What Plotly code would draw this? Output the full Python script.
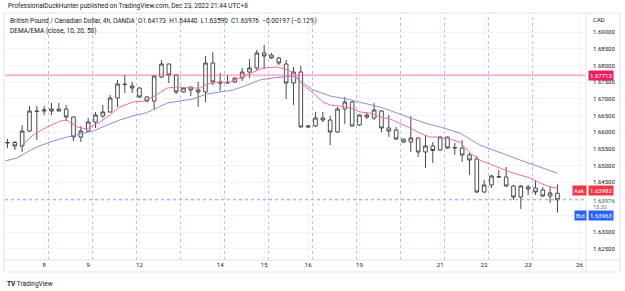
import plotly.graph_objects as go

# ---------------- data ----------------
opens = [1.65679, 1.65694, 1.65589, 1.66039, 1.66639, 1.66639, 1.66639, 1.66699, 1.66699, 1.66459,
         1.65859, 1.66039, 1.66309, 1.66489, 1.66609, 1.67029, 1.67449, 1.67329, 1.67329, 1.67059,
         1.66939, 1.67659, 1.68049, 1.67719, 1.67209, 1.67359, 1.67269, 1.67209, 1.68079, 1.67509,
         1.67479, 1.67509, 1.67629, 1.67809, 1.67929, 1.68379, 1.68319, 1.68229, 1.68049, 1.67479,
         1.67809, 1.66159, 1.66189, 1.66429, 1.66369, 1.66009, 1.66699, 1.66909, 1.66219, 1.66519,
         1.66429, 1.66639, 1.66129, 1.66069, 1.65799, 1.65709, 1.65829, 1.65409, 1.65589, 1.65469,
         1.65859, 1.65529, 1.65529, 1.65319, 1.65199, 1.64209, 1.64419, 1.64674, 1.64659, 1.64389,
         1.64059, 1.64359, 1.64329, 1.64269, 1.64089, 1.64173]
highs = [1.65799, 1.65739, 1.66219, 1.66789, 1.66789, 1.66789, 1.66879, 1.66879, 1.66819, 1.66474,
         1.66189, 1.66429, 1.66609, 1.66819, 1.67119, 1.67569, 1.67719, 1.67509, 1.67344, 1.67089,
         1.67719, 1.68169, 1.68064, 1.67734, 1.67359, 1.67359, 1.67509, 1.68289, 1.68409, 1.67779,
         1.67719, 1.67629, 1.67929, 1.68199, 1.68469, 1.68619, 1.68379, 1.68259, 1.68169, 1.67959,
         1.67989, 1.66204, 1.66609, 1.66609, 1.66489, 1.66759, 1.67059, 1.66939, 1.66534, 1.66609,
         1.66879, 1.66669, 1.66519, 1.66159, 1.65814, 1.66489, 1.65844, 1.65919, 1.65709, 1.65874,
         1.65874, 1.65679, 1.65769, 1.65379, 1.65289, 1.64569, 1.64719, 1.64869, 1.64959, 1.64419,
         1.64419, 1.64419, 1.64569, 1.64359, 1.64389, 1.64440]
lows = [1.65529, 1.65469, 1.65409, 1.66009, 1.65769, 1.66519, 1.66519, 1.66624, 1.66339, 1.65739,
        1.65709, 1.66009, 1.66129, 1.66429, 1.66594, 1.66759, 1.67179, 1.67179, 1.67029, 1.66909,
        1.66669, 1.67629, 1.67479, 1.67149, 1.67194, 1.67089, 1.66759, 1.66909, 1.67419, 1.67239,
        1.67449, 1.67479, 1.67539, 1.67629, 1.67869, 1.67899, 1.68199, 1.68019, 1.66999, 1.66819,
        1.66144, 1.66129, 1.66159, 1.66309, 1.65619, 1.65979, 1.66249, 1.66174, 1.66189, 1.66399,
        1.66369, 1.66009, 1.65859, 1.65769, 1.65694, 1.65409, 1.65259, 1.64929, 1.65079, 1.65439,
        1.65499, 1.65319, 1.65109, 1.64719, 1.64179, 1.64179, 1.64329, 1.64629, 1.64359, 1.63969,
        1.63699, 1.64119, 1.64119, 1.64059, 1.63879, 1.63590]
closes = [1.65694, 1.65589, 1.66039, 1.66639, 1.66624, 1.66669, 1.66699, 1.66639, 1.66459, 1.65859,
          1.66039, 1.66309, 1.66519, 1.66609, 1.67029, 1.67449, 1.67434, 1.67389, 1.67059, 1.66939,
          1.67689, 1.68049, 1.67719, 1.67209, 1.67329, 1.67269, 1.67209, 1.68079, 1.67509, 1.67479,
          1.67494, 1.67629, 1.67809, 1.67929, 1.68379, 1.68289, 1.68229, 1.68079, 1.67479, 1.67809,
          1.66159, 1.66189, 1.66429, 1.66369, 1.66009, 1.66699, 1.66909, 1.66189, 1.66519, 1.66459,
          1.66669, 1.66129, 1.66039, 1.65799, 1.65709, 1.65829, 1.65409, 1.65589, 1.65454, 1.65859,
          1.65529, 1.65544, 1.65319, 1.65169, 1.64209, 1.64419, 1.64689, 1.64659, 1.64389, 1.64059,
          1.64389, 1.64299, 1.64209, 1.64089, 1.64179, 1.63976]
bar_idx = list(range(len(closes)))

# fast average line (pink), read at candle positions
fast_idx = [1.7, 3.5, 5.4, 7.2, 8.1, 9.5, 10.8, 12.6, 14.0, 15.3, 17.1, 18.8, 19.8, 21.8, 23.1, 24.9,
            26.3, 27.2, 29.0, 30.3, 31.7, 33.5, 34.8, 36.8, 37.8, 38.9, 40.3, 41.7, 43.0, 44.0, 45.3,
            46.7, 48.1, 49.4, 50.8, 52.2, 53.5, 54.9, 56.2, 57.6, 58.9, 60.3, 61.7, 63.1, 64.4, 65.8,
            67.2, 68.5, 69.9, 71.3, 72.6, 74.0, 75.0]
fast_val = [1.65559, 1.65919, 1.66159, 1.66339, 1.66369, 1.66159, 1.66099, 1.66309, 1.66519, 1.66759,
            1.66909, 1.66939, 1.67059, 1.67329, 1.67359, 1.67329, 1.67329, 1.67449, 1.67509, 1.67509,
            1.67629, 1.67809, 1.67929, 1.67959, 1.67899, 1.67809, 1.67419, 1.67179, 1.66909, 1.66819,
            1.66789, 1.66729, 1.66609, 1.66579, 1.66459, 1.66399, 1.66279, 1.66129, 1.65979, 1.65859,
            1.65859, 1.65799, 1.65709, 1.65379, 1.65169, 1.65049, 1.64929, 1.64809, 1.64719, 1.64629,
            1.64479, 1.64359, 1.64319]

# slow average line (purple)
slow_idx = [-0.4, 1.3, 2.7, 4.0, 5.8, 8.1, 9.9, 11.7, 13.6, 15.3, 17.1, 18.8, 19.8, 21.8, 23.5, 25.3,
            27.2, 29.0, 30.8, 32.7, 34.4, 36.2, 37.8, 38.9, 40.3, 41.7, 44.0, 46.3, 48.5, 50.8, 53.1,
            55.3, 56.9, 59.0, 61.7, 64.4, 67.2, 69.9, 72.6, 75.0]
slow_val = [1.65139, 1.65229, 1.65409, 1.65559, 1.65709, 1.65859, 1.65949, 1.66039, 1.66219, 1.66369,
            1.66489, 1.66579, 1.66669, 1.66879, 1.66939, 1.66999, 1.67149, 1.67209, 1.67269, 1.67419,
            1.67569, 1.67629, 1.67659, 1.67689, 1.67479, 1.67269, 1.67089, 1.66999, 1.66879, 1.66759,
            1.66579, 1.66399, 1.66279, 1.66159, 1.65979, 1.65619, 1.65379, 1.65169, 1.64959, 1.64769]

day_labels = ["8", "9", "12", "14", "15", "16", "19", "21", "22", "23", "26"]
day_label_idx = [5, 11, 18, 29, 35, 41, 48, 59, 65, 71, 78]
day_break_idx = [5.6, 11.6, 17.6, 23.6, 29.6, 35.6, 41.6, 47.6, 53.6, 59.6, 65.6, 71.6]

price_ticks = [1.625, 1.630, 1.635, 1.640, 1.645, 1.650, 1.655, 1.660, 1.665, 1.670,
               1.675, 1.680, 1.685, 1.690]
hidden_ticks = [1.635, 1.640]

hline_price = 1.67713
last_price = 1.63976
ask_price = 1.63982
bid_price = 1.63963

title_text = "ProfessionalDuckHunter published on TradingView.com, Dec 23, 2022 21:44 UTC+8"
legend_1 = ("British Pound / Canadian Dollar, 4h, OANDA  O1.64173  H1.64440  L1.63590  "
            "C1.63976  \u22120.00197 (\u22120.12%)")
legend_2 = "DEMA/EMA (close, 10, 20, 50)"

# ---------------- figure ----------------
W, H = 625, 291
ML, MR, MT, MB = 5, 39, 13, 31
PW, PH = W - ML - MR, H - MT - MB


def px(xp):
    return (xp - ML) / PW


def py(yp):
    return (H - MB - yp) / PH


FONT = "Roboto, Arial, sans-serif"
TXT = "#131722"

fig = go.Figure()

fig.add_trace(go.Candlestick(
    x=bar_idx, open=opens, high=highs, low=lows, close=closes,
    increasing=dict(line=dict(color="#4a4a4a", width=1), fillcolor="#ffffff"),
    decreasing=dict(line=dict(color="#4a4a4a", width=1), fillcolor="#ffffff"),
    whiskerwidth=0, hoverinfo="skip", showlegend=False,
))
fig.add_trace(go.Scatter(x=slow_idx, y=slow_val, mode="lines",
                         line=dict(color="#9a88dc", width=1), hoverinfo="skip", showlegend=False))
fig.add_trace(go.Scatter(x=fast_idx, y=fast_val, mode="lines",
                         line=dict(color="#ef6f9b", width=1), hoverinfo="skip", showlegend=False))

shapes = []
for b in day_break_idx:
    shapes.append(dict(type="line", xref="x", yref="paper", x0=b, x1=b, y0=0, y1=1,
                       line=dict(color="rgba(41,98,255,0.4)", width=1, dash="3px,3px"), layer="below"))
shapes.append(dict(type="line", xref="paper", yref="y", x0=0, x1=1, y0=hline_price, y1=hline_price,
                   line=dict(color="rgba(242,90,150,0.45)", width=2)))
shapes.append(dict(type="line", xref="paper", yref="y", x0=0, x1=1, y0=last_price, y1=last_price,
                   line=dict(color="#a98be0", width=1, dash="dot")))
# frame
shapes.append(dict(type="rect", xref="paper", yref="paper", x0=px(4), x1=px(620), y0=py(272), y1=py(13),
                   line=dict(color="#e0e3eb", width=1)))
shapes.append(dict(type="line", xref="paper", yref="paper", x0=1, x1=1, y0=py(272), y1=py(13),
                   line=dict(color="#e0e3eb", width=1)))
shapes.append(dict(type="line", xref="paper", yref="paper", x0=px(4), x1=px(620), y0=0, y1=0,
                   line=dict(color="#e0e3eb", width=1)))

ann = []
ann.append(dict(text=title_text, xref="paper", yref="paper", x=px(6), y=py(6.5), xanchor="left",
                yanchor="middle", showarrow=False, font=dict(size=6.5, color=TXT, family=FONT)))
ann.append(dict(text=legend_1, xref="paper", yref="paper", x=px(8), y=py(21), xanchor="left",
                yanchor="middle", showarrow=False, font=dict(size=6.5, color=TXT, family=FONT)))
ann.append(dict(text=legend_2, xref="paper", yref="paper", x=px(8), y=py(31), xanchor="left",
                yanchor="middle", showarrow=False, font=dict(size=6.5, color=TXT, family=FONT)))
ann.append(dict(text="CAD", xref="paper", yref="paper", x=px(591), y=py(19), xanchor="left",
                yanchor="middle", showarrow=False, font=dict(size=6, color=TXT, family=FONT)))
ann.append(dict(text=f"{hline_price:.5f}", xref="paper", yref="y", x=px(587.5), y=hline_price,
                xanchor="left", yanchor="middle", showarrow=False, bgcolor="#e91e63", borderpad=1,
                font=dict(size=6, color="#ffffff", family=FONT)))
ann.append(dict(text="Ask", xref="paper", yref="paper", x=px(586.5), y=py(191), xanchor="right",
                yanchor="middle", showarrow=False, bgcolor="#f23645", borderpad=1,
                font=dict(size=6, color="#ffffff", family=FONT)))
ann.append(dict(text=f"{ask_price:.5f}", xref="paper", yref="paper", x=px(587.5), y=py(191),
                xanchor="left", yanchor="middle", showarrow=False, bgcolor="#f23645", borderpad=1,
                font=dict(size=6, color="#ffffff", family=FONT)))
ann.append(dict(text=f"{last_price:.5f}", xref="paper", yref="paper", x=px(591), y=py(200.5),
                xanchor="left", yanchor="middle", showarrow=False,
                font=dict(size=6, color="#50535e", family=FONT)))
ann.append(dict(text="15:30", xref="paper", yref="paper", x=px(591), y=py(207.5),
                xanchor="left", yanchor="middle", showarrow=False,
                font=dict(size=5.5, color="#787b86", family=FONT)))
ann.append(dict(text="Bid", xref="paper", yref="paper", x=px(586.5), y=py(215), xanchor="right",
                yanchor="middle", showarrow=False, bgcolor="#2962ff", borderpad=1,
                font=dict(size=6, color="#ffffff", family=FONT)))
ann.append(dict(text=f"{bid_price:.5f}", xref="paper", yref="paper", x=px(587.5), y=py(215),
                xanchor="left", yanchor="middle", showarrow=False, bgcolor="#2962ff", borderpad=1,
                font=dict(size=6, color="#ffffff", family=FONT)))
ann.append(dict(text="<b>TV</b> TradingView", xref="paper", yref="paper", x=px(5), y=py(284),
                xanchor="left", yanchor="middle", showarrow=False,
                font=dict(size=6.5, color="#131722", family=FONT)))

ticktext = ["" if t in hidden_ticks else f"{t:.5f}" for t in price_ticks]

fig.update_layout(
    width=W, height=H,
    margin=dict(l=ML, r=MR, t=MT, b=MB),
    paper_bgcolor="#ffffff", plot_bgcolor="#ffffff",
    shapes=shapes, annotations=ann,
    xaxis=dict(range=[-0.34, 78.89], tickmode="array", tickvals=day_label_idx, ticktext=day_labels,
               showgrid=True, gridcolor="#f3f4f8", gridwidth=1, zeroline=False, showline=False,
               ticks="", tickfont=dict(size=6, color=TXT, family=FONT), rangeslider=dict(visible=False),
               fixedrange=True),
    yaxis=dict(range=[1.62169, 1.69579], side="right", tickmode="array", tickvals=price_ticks,
               ticktext=ticktext, showgrid=True, gridcolor="#f3f4f8", gridwidth=1, zeroline=False,
               ticks="", ticklabelstandoff=6, tickfont=dict(size=6, color=TXT, family=FONT),
               fixedrange=True),
    showlegend=False,
    hovermode=False,
)

fig.write_html("out.html")
